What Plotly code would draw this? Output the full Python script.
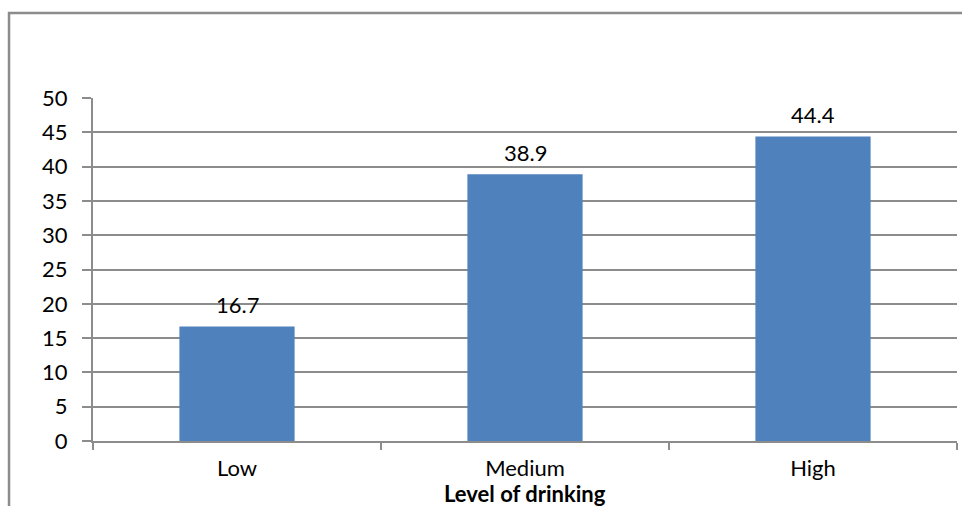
import plotly.graph_objects as go

categories = ["Low", "Medium", "High"]
values = [16.7, 38.9, 44.4]
value_labels = ["16.7", "38.9", "44.4"]
y_ticks = [0, 5, 10, 15, 20, 25, 30, 35, 40, 45, 50]
x_title = "Level of drinking"

GRAY = "#8c8c8c"
FONT = "Lato, Carlito, 'Open Sans', sans-serif"
SIZE = 22

fig = go.Figure(
    go.Bar(
        x=categories,
        y=values,
        marker=dict(color="#4f81bd", line=dict(width=0)),
        width=0.4,
    )
)

# value labels above each bar
for cat, val, lab in zip(categories, values, value_labels):
    fig.add_annotation(
        x=cat, y=val, text=lab, showarrow=False,
        yanchor="bottom", yshift=6,
        font=dict(family=FONT, size=SIZE, color="#000000"),
    )

# x-axis title placed just under the tick labels
fig.add_annotation(
    x=0.5, y=0, xref="paper", yref="paper",
    text=f"<b>{x_title}</b>", showarrow=False,
    yanchor="top", yshift=-37,
    font=dict(family=FONT, size=SIZE, color="#000000"),
)

# outer chart frame (left and top edges)
fig.add_shape(
    type="path", xref="paper", yref="paper",
    path="M -0.0972,-0.3 L -0.0972,1.2478 L 1.2,1.2478",
    line=dict(color=GRAY, width=2.5),
)

fig.update_layout(
    width=962, height=506,
    margin=dict(l=93, r=5, t=98, b=65, autoexpand=False),
    paper_bgcolor="white", plot_bgcolor="white",
    showlegend=False,
    font=dict(family=FONT, size=SIZE, color="#000000"),
    xaxis=dict(
        showline=True, linecolor=GRAY, linewidth=2,
        ticks="outside", tickson="boundaries", ticklen=7,
        tickcolor=GRAY, tickwidth=2,
        showgrid=False, automargin=False,
        tickfont=dict(family=FONT, size=SIZE),
        ticklabelstandoff=7,
    ),
    yaxis=dict(
        range=[0, 50], tickvals=y_ticks,
        showline=True, linecolor=GRAY, linewidth=2,
        ticks="outside", ticklen=9, tickcolor=GRAY, tickwidth=2,
        showgrid=True, gridcolor=GRAY, gridwidth=2,
        zeroline=False, automargin=False,
        tickfont=dict(family=FONT, size=SIZE),
        ticklabelstandoff=10,
    ),
)

fig.write_html("out.html")
